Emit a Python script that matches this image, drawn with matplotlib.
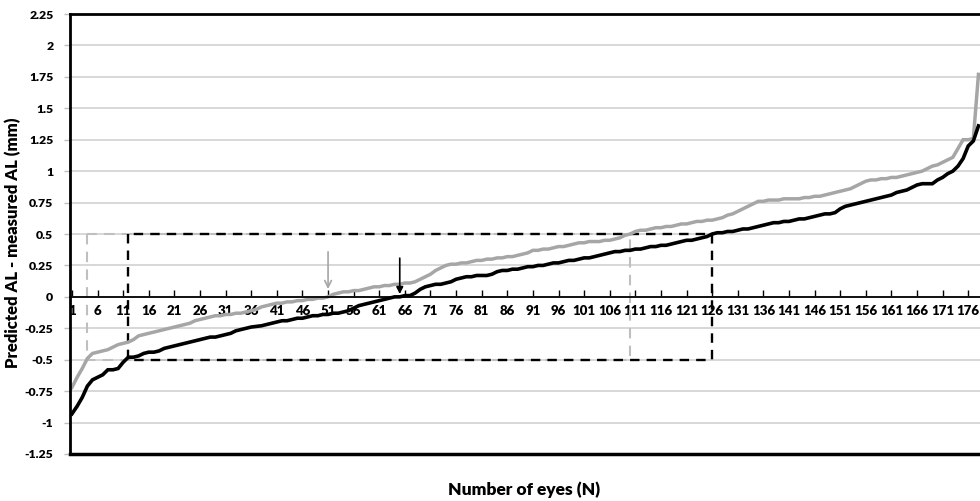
# Predicted AL - measured AL, eyes sorted by difference (two formulas)

import numpy as np
import matplotlib
matplotlib.use('Agg')
import matplotlib.pyplot as plt

plt.rcParams['font.family'] = ['Lato', 'DejaVu Sans']
plt.rcParams['font.weight'] = 'heavy'

# eyes 1..178, each series sorted
black_diff = [
	-0.93, -0.87, -0.80, -0.71, -0.66, -0.64, -0.62, -0.58, -0.58, -0.57,
	-0.52, -0.48, -0.48, -0.47, -0.45, -0.44, -0.44, -0.43, -0.41, -0.40,
	-0.39, -0.38, -0.37, -0.36, -0.35, -0.34, -0.33, -0.32, -0.32, -0.31,
	-0.30, -0.29, -0.27, -0.26, -0.25, -0.24, -0.235, -0.23, -0.22, -0.21,
	-0.20, -0.19, -0.19, -0.18, -0.17, -0.17, -0.16, -0.15, -0.15, -0.14,
	-0.14, -0.13, -0.13, -0.12, -0.11, -0.09, -0.07, -0.06, -0.05, -0.04,
	-0.03, -0.02, -0.01, 0.00, 0.00, 0.01, 0.01, 0.03, 0.06, 0.08,
	0.09, 0.10, 0.10, 0.11, 0.12, 0.14, 0.15, 0.16, 0.16, 0.17,
	0.17, 0.17, 0.18, 0.20, 0.21, 0.21, 0.22, 0.22, 0.23, 0.24,
	0.24, 0.25, 0.25, 0.26, 0.27, 0.27, 0.28, 0.29, 0.29, 0.30,
	0.31, 0.31, 0.32, 0.33, 0.34, 0.35, 0.36, 0.36, 0.37, 0.37,
	0.38, 0.38, 0.39, 0.40, 0.40, 0.41, 0.41, 0.42, 0.43, 0.44,
	0.45, 0.45, 0.46, 0.47, 0.48, 0.50, 0.51, 0.51, 0.52, 0.52,
	0.53, 0.54, 0.54, 0.55, 0.56, 0.57, 0.58, 0.59, 0.59, 0.60,
	0.60, 0.61, 0.62, 0.62, 0.63, 0.64, 0.65, 0.66, 0.66, 0.67,
	0.70, 0.72, 0.73, 0.74, 0.75, 0.76, 0.77, 0.78, 0.79, 0.80,
	0.81, 0.83, 0.84, 0.85, 0.87, 0.89, 0.90, 0.90, 0.90, 0.93,
	0.95, 0.98, 1.00, 1.04, 1.10, 1.20, 1.24, 1.36]

gray_diff = [
	-0.72, -0.64, -0.57, -0.49, -0.45, -0.44, -0.43, -0.42, -0.40, -0.38,
	-0.37, -0.36, -0.34, -0.31, -0.30, -0.29, -0.28, -0.27, -0.26, -0.25,
	-0.24, -0.23, -0.22, -0.21, -0.19, -0.18, -0.17, -0.16, -0.15, -0.15,
	-0.14, -0.14, -0.13, -0.13, -0.12, -0.11, -0.10, -0.08, -0.07, -0.06,
	-0.05, -0.05, -0.04, -0.04, -0.03, -0.03, -0.02, -0.02, -0.01, -0.01,
	0.00, 0.02, 0.03, 0.04, 0.04, 0.05, 0.05, 0.06, 0.07, 0.08,
	0.08, 0.09, 0.09, 0.10, 0.10, 0.11, 0.11, 0.12, 0.14, 0.16,
	0.18, 0.21, 0.23, 0.25, 0.26, 0.26, 0.27, 0.27, 0.28, 0.29,
	0.29, 0.30, 0.30, 0.31, 0.31, 0.32, 0.32, 0.33, 0.34, 0.35,
	0.37, 0.37, 0.38, 0.38, 0.39, 0.40, 0.40, 0.41, 0.42, 0.43,
	0.43, 0.44, 0.44, 0.44, 0.45, 0.45, 0.46, 0.47, 0.49, 0.50,
	0.52, 0.53, 0.53, 0.54, 0.55, 0.55, 0.56, 0.56, 0.57, 0.58,
	0.58, 0.59, 0.60, 0.60, 0.61, 0.61, 0.62, 0.63, 0.65, 0.66,
	0.68, 0.70, 0.72, 0.74, 0.76, 0.76, 0.77, 0.77, 0.77, 0.78,
	0.78, 0.78, 0.78, 0.79, 0.79, 0.80, 0.80, 0.81, 0.82, 0.83,
	0.84, 0.85, 0.86, 0.88, 0.90, 0.92, 0.93, 0.93, 0.94, 0.94,
	0.95, 0.95, 0.96, 0.97, 0.98, 0.99, 1.00, 1.02, 1.04, 1.05,
	1.07, 1.09, 1.11, 1.18, 1.25, 1.25, 1.26, 1.77]

eyes = list(range(1, len(black_diff) + 1))
x_tick_eyes = list(range(1, 177, 5))
y_ticks = [-1.25, -1, -0.75, -0.5, -0.25, 0, 0.25, 0.5, 0.75, 1, 1.25, 1.5, 1.75, 2, 2.25]

# +-0.5 mm boxes: (first eye, last eye)
gray_box = (4, 110)
black_box = (12, 126)
# where each curve crosses zero
gray_zero_eye = 51
black_zero_eye = 65

GRAY = '#a6a6a6'

fig = plt.figure(figsize=(9.8, 5.01), dpi=100)
ax = fig.add_axes([70/980, 47/501, 910/980, 440/501])

ax.set_xlim(0.61, 178.3)
ax.set_ylim(-1.25, 2.25)

ax.set_yticks(y_ticks)
ax.set_yticklabels(['%g' % v for v in y_ticks])
ax.yaxis.grid(True, color='#d4d4d4', lw=1.3)
ax.set_axisbelow(True)

ax.set_xticks(x_tick_eyes)
ax.set_xticklabels([str(v) for v in x_tick_eyes])

# category axis sits on zero
ax.spines['bottom'].set_position(('data', 0))
ax.spines['bottom'].set_linewidth(1.3)
ax.spines['left'].set_linewidth(2)
ax.spines['top'].set_linewidth(2)
ax.spines['right'].set_visible(False)
ax.axhline(-1.25, color='black', lw=2.5, clip_on=False)

ax.tick_params(axis='x', direction='in', length=5, width=1, pad=6, labelsize=9.5)
ax.tick_params(axis='y', direction='out', length=4, width=1, color='#bfbfbf', pad=8, labelsize=8.8)

# dashed boxes
def draw_box(box, color, lw, dashes):
	x0, x1 = box
	ax.plot([x0, x0, x1, x1, x0], [0.5, -0.5, -0.5, 0.5, 0.5], color=color, lw=lw, dashes=dashes)

draw_box(gray_box, '#bfbfbf', 1.5, (5, 3.5))
draw_box(black_box, 'black', 1.7, (4, 3))

ax.plot(eyes, gray_diff, color=GRAY, lw=2.5, solid_joinstyle='miter')
ax.plot(eyes, black_diff, color='black', lw=2.6, solid_joinstyle='miter')

ax.annotate('', xy=(gray_zero_eye, 0.04), xytext=(gray_zero_eye, 0.38),
	arrowprops=dict(arrowstyle='->', color=GRAY, lw=1.2, mutation_scale=12))
ax.annotate('', xy=(black_zero_eye, 0.0), xytext=(black_zero_eye, 0.33),
	arrowprops=dict(arrowstyle='-|>', color='black', lw=1.2, mutation_scale=10))

ax.set_ylabel('Predicted AL - measured AL (mm)', fontsize=12, fontweight='heavy')
ax.yaxis.set_label_coords(-0.054, 0.48)
fig.text(524/980, 1 - 490/501, 'Number of eyes (N)', fontsize=12.5, fontweight='heavy',
	ha='center', va='center')

plt.savefig('out.png', dpi=100)
